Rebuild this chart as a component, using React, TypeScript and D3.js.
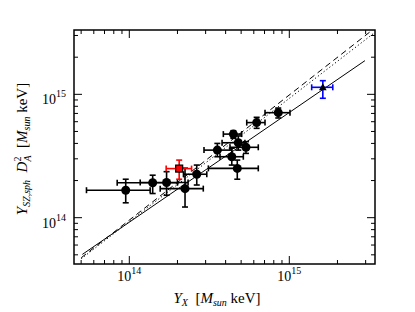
import React, { useEffect, useRef } from 'react';
import * as d3 from 'd3';

const W = 415;
const H = 312;

// black clusters: Y_X, its range, Y_SZ D_A^2, its range
const yx = [9.5e13, 1.40e14, 1.71e14, 2.23e14, 2.64e14, 3.55e14, 4.37e14, 4.73e14, 4.47e14, 4.8e14, 5.36e14, 6.25e14, 8.53e14];
const yxLo = [5.4e13, 8.4e13, 1.17e14, 1.56e14, 2.18e14, 2.93e14, 3.69e14, 3.12e14, 3.87e14, 3.8e14, 4.26e14, 5.42e14, 7.05e14];
const yxHi = [1.35e14, 2.0e14, 2.33e14, 2.9e14, 3.05e14, 4.37e14, 5.16e14, 6.4e14, 5.04e14, 5.28e14, 6.4e14, 7.05e14, 1.01e15];
const ysz = [1.67e14, 1.92e14, 1.93e14, 1.72e14, 2.25e14, 3.53e14, 3.12e14, 2.51e14, 4.76e14, 4.05e14, 3.72e14, 5.9e14, 7.1e14];
const yszLo = [1.32e14, 1.57e14, 1.52e14, 1.22e14, 1.84e14, 3.12e14, 2.67e14, 2.05e14, 4.4e14, 3.53e14, 3.32e14, 5.3e14, 6.43e14];
const yszHi = [2.05e14, 2.21e14, 2.36e14, 2.52e14, 2.67e14, 4.0e14, 3.66e14, 2.93e14, 5.07e14, 4.6e14, 4.13e14, 6.51e14, 7.74e14];

// special points: [x, xlo, xhi, y, ylo, yhi]
const redPt = [2.05e14, 1.70e14, 2.45e14, 2.50e14, 2.05e14, 2.93e14];
const bluePt = [1.62e15, 1.38e15, 1.87e15, 1.14e15, 9.29e14, 1.29e15];

// fit lines (end points)
const solidX = [5.09e13, 2.97e15];
const solidY = [5.04e13, 1.875e15];
const dashX = [5.01e13, 3.43e15];
const dashY = [4.74e13, 3.45e15];
const dotX = [5.01e13, 3.43e15];
const dotY = [4.65e13, 3.18e15];

const majorTicks = [1e14, 1e15];

export default function App() {
  const svgRef = useRef<SVGSVGElement>(null);

  useEffect(() => {
    const svg = d3.select(svgRef.current);
    svg.selectAll('*').remove();
    const left = 74, right = 375, top = 30, bottom = 264;

    const x = d3.scaleLog().domain([Math.pow(10, 13.6544), Math.pow(10, 15.5356)]).range([left, right]);
    const y = d3.scaleLog().domain([Math.pow(10, 13.6245), Math.pow(10, 15.5215)]).range([bottom, top]);

    svg.append('rect').attr('width', W).attr('height', H).attr('fill', '#fff');

    svg.append('defs').append('clipPath').attr('id', 'plotclip')
      .append('rect').attr('x', left).attr('y', top).attr('width', right - left).attr('height', bottom - top);

    const minor = (dom: number[]) => {
      const out: number[] = [];
      for (let e = 13; e <= 15; e++) {
        for (let k = 2; k <= 9; k++) {
          const v = k * Math.pow(10, e);
          if (v > dom[0] && v < dom[1]) out.push(v);
        }
      }
      return out;
    };

    const ax = svg.append('g').attr('stroke', '#000').attr('stroke-width', 1);
    const xd = x.domain(), yd = y.domain();
    minor(xd).forEach(v => {
      ax.append('line').attr('x1', x(v)).attr('x2', x(v)).attr('y1', bottom).attr('y2', bottom - 4);
      ax.append('line').attr('x1', x(v)).attr('x2', x(v)).attr('y1', top).attr('y2', top + 4);
    });
    majorTicks.forEach(v => {
      ax.append('line').attr('x1', x(v)).attr('x2', x(v)).attr('y1', bottom).attr('y2', bottom - 8);
      ax.append('line').attr('x1', x(v)).attr('x2', x(v)).attr('y1', top).attr('y2', top + 8);
    });
    minor(yd).forEach(v => {
      ax.append('line').attr('y1', y(v)).attr('y2', y(v)).attr('x1', left).attr('x2', left + 4);
      ax.append('line').attr('y1', y(v)).attr('y2', y(v)).attr('x1', right).attr('x2', right - 4);
    });
    majorTicks.forEach(v => {
      ax.append('line').attr('y1', y(v)).attr('y2', y(v)).attr('x1', left).attr('x2', left + 8);
      ax.append('line').attr('y1', y(v)).attr('y2', y(v)).attr('x1', right).attr('x2', right - 8);
    });

    const font = '"Liberation Serif", "DejaVu Serif", serif';
    majorTicks.forEach(v => {
      const e = Math.round(Math.log10(v));
      const t = svg.append('text').attr('x', x(v)).attr('y', 281).attr('text-anchor', 'middle')
        .attr('font-family', font).attr('font-size', 14);
      t.append('tspan').text('10');
      t.append('tspan').attr('dy', -7).attr('font-size', 10).text(String(e));
      const t2 = svg.append('text').attr('x', 66).attr('y', y(v) + 10).attr('text-anchor', 'end')
        .attr('font-family', font).attr('font-size', 14);
      t2.append('tspan').text('10');
      t2.append('tspan').attr('dy', -7).attr('font-size', 10).text(String(e));
    });

    // lines
    const g = svg.append('g').attr('clip-path', 'url(#plotclip)');
    const line = d3.line<[number, number]>().x(d => x(d[0])).y(d => y(d[1]));
    const pair = (xs: number[], ys: number[]) => xs.map((v, i) => [v, ys[i]] as [number, number]);
    g.append('path').attr('d', line(pair(solidX, solidY))).attr('stroke', '#000').attr('stroke-width', 1).attr('fill', 'none');
    g.append('path').attr('d', line(pair(dashX, dashY))).attr('stroke', '#000').attr('stroke-width', 1).attr('fill', 'none').attr('stroke-dasharray', '6,4');
    g.append('path').attr('d', line(pair(dotX, dotY))).attr('stroke', '#000').attr('stroke-width', 1).attr('fill', 'none').attr('stroke-dasharray', '1.2,2.4');

    const errbar = (px: number, pxl: number, pxh: number, py: number, pyl: number, pyh: number, col: string) => {
      const e = g.append('g').attr('stroke', col).attr('stroke-width', 1.6);
      const cx = x(px), cy = y(py);
      e.append('line').attr('x1', x(pxl)).attr('x2', x(pxh)).attr('y1', cy).attr('y2', cy);
      e.append('line').attr('x1', cx).attr('x2', cx).attr('y1', y(pyl)).attr('y2', y(pyh));
      [pxl, pxh].forEach(v => e.append('line').attr('x1', x(v)).attr('x2', x(v)).attr('y1', cy - 3).attr('y2', cy + 3));
      [pyl, pyh].forEach(v => e.append('line').attr('y1', y(v)).attr('y2', y(v)).attr('x1', cx - 3).attr('x2', cx + 3));
    };

    yx.forEach((v, i) => errbar(v, yxLo[i], yxHi[i], ysz[i], yszLo[i], yszHi[i], '#000'));
    yx.forEach((v, i) => {
      g.append('circle').attr('cx', x(v)).attr('cy', y(ysz[i])).attr('r', 4.5).attr('fill', '#000');
    });

    errbar(redPt[0], redPt[1], redPt[2], redPt[3], redPt[4], redPt[5], '#ff0000');
    g.append('rect').attr('x', x(redPt[0]) - 3.5).attr('y', y(redPt[3]) - 3.5).attr('width', 7).attr('height', 7)
      .attr('fill', '#ff0000').attr('stroke', '#000').attr('stroke-width', 1.2);

    errbar(bluePt[0], bluePt[1], bluePt[2], bluePt[3], bluePt[4], bluePt[5], '#0000ff');
    const bx = x(bluePt[0]), by = y(bluePt[3]);
    g.append('path').attr('d', `M${bx},${by - 4}L${bx + 3.8},${by + 3}L${bx - 3.8},${by + 3}Z`).attr('fill', '#000');

    svg.append('rect').attr('x', left).attr('y', top).attr('width', right - left).attr('height', bottom - top)
      .attr('fill', 'none').attr('stroke', '#000').attr('stroke-width', 1.5);

    // x label
    const xl = svg.append('text').attr('x', 217).attr('y', 303).attr('text-anchor', 'middle')
      .attr('font-family', font).attr('font-size', 15);
    xl.append('tspan').attr('font-style', 'italic').text('Y');
    xl.append('tspan').attr('font-style', 'italic').attr('font-size', 10).attr('dy', 3).text('X');
    xl.append('tspan').attr('dy', -3).text('\u2002[');
    xl.append('tspan').attr('font-style', 'italic').text('M');
    xl.append('tspan').attr('font-style', 'italic').attr('font-size', 10).attr('dy', 3).text('sun');
    xl.append('tspan').attr('dy', -3).text(' keV]');

    // y label
    const yl = svg.append('text').attr('transform', 'translate(27,149) rotate(-90)').attr('text-anchor', 'middle')
      .attr('font-family', font).attr('font-size', 15);
    yl.append('tspan').attr('font-style', 'italic').text('Y');
    yl.append('tspan').attr('font-style', 'italic').attr('font-size', 10).attr('dy', 3).text('SZ,sph');
    yl.append('tspan').attr('dy', -3).text('\u2002');
    yl.append('tspan').attr('font-style', 'italic').text('D');
    yl.append('tspan').attr('font-size', 10).attr('dy', -6).text('2');
    yl.append('tspan').attr('font-style', 'italic').attr('font-size', 10).attr('dx', -5).attr('dy', 10).text('A');
    yl.append('tspan').attr('dy', -4).text('\u2002[');
    yl.append('tspan').attr('font-style', 'italic').text('M');
    yl.append('tspan').attr('font-style', 'italic').attr('font-size', 10).attr('dy', 3).text('sun');
    yl.append('tspan').attr('dy', -3).text(' keV]');
  }, []);

  return (
    <svg ref={svgRef} width={W} height={H} style={{ position: 'fixed', left: 0, top: 0, display: 'block' }} />
  );
}
